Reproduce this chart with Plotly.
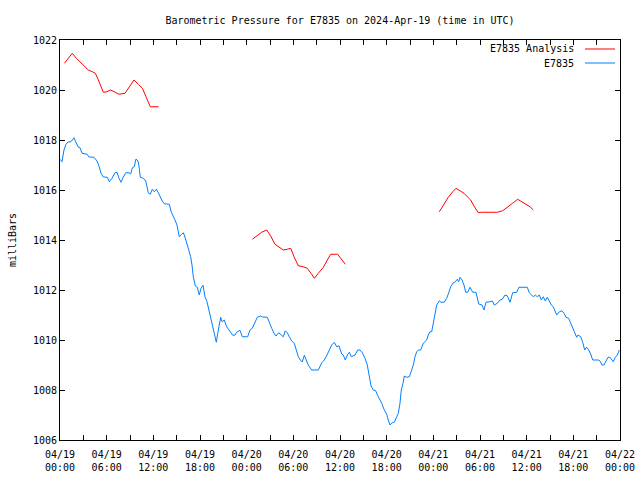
import pandas as pd
import plotly.graph_objects as go

# Hours since 2024-04-19 00:00 UTC and pressure (mb) for station E7835
obs_hours = [0.0, 0.26, 0.51, 0.77, 1.03, 1.41, 1.80, 2.06, 2.31, 2.57, 2.83, 3.47, 3.73, 4.37, 4.76,
             5.01, 5.27, 5.57, 6.08, 6.34, 6.69, 7.07, 7.33, 7.59, 7.84, 8.14, 8.45, 8.87, 9.09, 9.30,
             9.55, 9.77, 10.03, 10.20, 10.32, 10.71, 11.02, 11.19, 11.35, 11.61, 11.87, 12.12, 12.38,
             12.64, 12.90, 13.15, 13.41, 14.05, 14.31, 14.57, 14.79, 15.04, 15.34, 15.65, 15.85, 16.03,
             16.29, 16.55, 16.80, 16.97, 17.14, 17.40, 17.65, 17.91, 18.13, 18.39, 18.64, 18.90, 19.16,
             19.32, 19.54, 19.80, 20.02, 20.10, 20.28, 20.48, 20.66, 20.83, 21.12, 21.43, 21.86, 22.20,
             22.50, 22.72, 23.14, 23.44, 24.13, 24.43, 24.72, 25.11, 25.37, 25.80, 26.06, 26.65, 26.91,
             27.22, 27.51, 27.77, 28.12, 28.45, 28.71, 28.97, 29.22, 29.48, 29.79, 30.12, 30.43, 30.64,
             30.90, 31.15, 31.41, 31.63, 31.92, 32.36, 33.21, 33.65, 33.98, 34.33, 34.62, 34.93, 35.27,
             35.58, 35.87, 36.22, 36.42, 36.68, 36.94, 37.20, 37.45, 37.93, 38.28, 38.57, 38.87, 39.21,
             39.51, 39.77, 39.99, 40.28, 40.59, 40.85, 41.14, 41.36, 41.66, 42.00, 42.21, 42.43, 42.72,
             42.98, 43.29, 43.50, 43.71, 43.88, 44.10, 44.27, 44.58, 44.91, 45.22, 45.43, 45.64, 45.86,
             46.07, 46.38, 46.71, 47.15, 47.35, 47.57, 47.79, 48.00, 48.21, 48.43, 48.77, 48.99, 49.41,
             49.72, 49.98, 50.23, 50.57, 50.82, 51.08, 51.26, 51.43, 51.69, 51.94, 52.16, 52.42, 52.71,
             53.06, 53.49, 53.83, 54.26, 54.51, 54.77, 55.29, 55.58, 55.84, 56.23, 56.57, 56.87, 57.21,
             57.51, 57.86, 58.20, 58.72, 59.01, 60.08, 60.34, 60.65, 60.85, 61.11, 61.37, 61.62, 61.88,
             62.14, 62.40, 62.65, 62.91, 63.17, 63.42, 63.68, 63.86, 64.12, 64.54, 64.80, 65.06, 65.40,
             65.66, 65.92, 66.18, 66.43, 66.60, 66.95, 67.20, 67.46, 67.72, 67.98, 68.23, 68.49, 69.21,
             69.43, 69.69, 69.94, 70.20, 70.46, 70.71, 70.97, 71.14, 71.40, 71.66, 71.91]
obs_mb = [1017.23, 1017.13, 1017.60, 1017.83, 1017.92, 1017.93, 1018.09, 1017.93, 1017.73, 1017.69,
          1017.47, 1017.43, 1017.32, 1017.31, 1017.16, 1016.96, 1016.67, 1016.52, 1016.51, 1016.33,
          1016.47, 1016.69, 1016.71, 1016.47, 1016.31, 1016.52, 1016.69, 1016.69, 1016.64, 1016.89,
          1016.93, 1017.24, 1017.16, 1016.87, 1016.51, 1016.47, 1016.36, 1016.13, 1015.89, 1015.83,
          1016.03, 1015.93, 1016.03, 1015.89, 1015.69, 1015.56, 1015.45, 1015.43, 1015.11, 1014.97,
          1014.80, 1014.60, 1014.13, 1014.23, 1014.29, 1014.16, 1013.87, 1013.53, 1013.33, 1013.00,
          1012.53, 1012.16, 1012.11, 1011.80, 1012.07, 1012.19, 1011.73, 1011.53, 1011.20, 1010.93,
          1010.60, 1010.36, 1010.07, 1009.91, 1010.27, 1010.67, 1010.91, 1010.73, 1010.80, 1010.53,
          1010.33, 1010.19, 1010.20, 1010.31, 1010.39, 1010.13, 1010.13, 1010.40, 1010.47, 1010.73,
          1010.91, 1010.96, 1010.92, 1010.91, 1010.67, 1010.47, 1010.27, 1010.16, 1010.29, 1010.20,
          1010.13, 1010.37, 1010.29, 1010.13, 1009.96, 1009.87, 1009.60, 1009.33, 1009.20, 1009.12,
          1009.39, 1009.20, 1009.00, 1008.80, 1008.80, 1009.09, 1009.20, 1009.40, 1009.60, 1009.80,
          1009.91, 1009.73, 1009.77, 1009.44, 1009.40, 1009.20, 1009.40, 1009.51, 1009.33, 1009.40,
          1009.60, 1009.60, 1009.49, 1009.27, 1009.00, 1008.53, 1008.16, 1008.00, 1007.97, 1007.77,
          1007.60, 1007.47, 1007.23, 1007.03, 1006.80, 1006.60, 1006.69, 1006.71, 1006.93, 1007.07,
          1007.47, 1008.00, 1008.27, 1008.56, 1008.51, 1008.53, 1008.80, 1009.00, 1009.33, 1009.53,
          1009.60, 1009.60, 1009.87, 1010.00, 1010.20, 1010.33, 1010.33, 1010.67, 1011.07, 1011.40,
          1011.57, 1011.51, 1011.51, 1011.67, 1011.89, 1012.13, 1012.29, 1012.33, 1012.43, 1012.33,
          1012.51, 1012.40, 1012.20, 1011.91, 1011.91, 1012.11, 1011.91, 1011.91, 1011.44, 1011.40,
          1011.20, 1011.51, 1011.53, 1011.56, 1011.40, 1011.47, 1011.60, 1011.63, 1011.80, 1011.77,
          1011.51, 1011.89, 1011.91, 1012.11, 1012.11, 1011.89, 1011.80, 1011.73, 1011.80, 1011.73,
          1011.80, 1011.60, 1011.73, 1011.56, 1011.71, 1011.53, 1011.40, 1011.33, 1011.17, 1011.00,
          1011.11, 1011.17, 1011.07, 1010.91, 1010.87, 1010.67, 1010.47, 1010.27, 1010.11, 1010.20,
          1010.13, 1009.91, 1009.60, 1009.71, 1009.60, 1009.44, 1009.20, 1009.20, 1009.16, 1009.00,
          1009.00, 1009.16, 1009.31, 1009.31, 1009.20, 1009.13, 1009.31, 1009.40, 1009.60]

# Analysis segments (three separate runs)
ana1_hours = [0.56, 1.07, 1.58, 2.10, 2.61, 3.13, 3.64, 4.16, 4.54, 4.84, 5.19, 5.57, 6.04, 6.47,
              6.99, 7.59, 8.36, 8.87, 9.51, 10.07, 10.59, 11.06, 11.61, 12.69]
ana1_mb = [1021.07, 1021.27, 1021.47, 1021.27, 1021.11, 1020.96, 1020.80, 1020.73, 1020.67, 1020.47,
           1020.20, 1019.91, 1019.93, 1020.00, 1019.93, 1019.83, 1019.87, 1020.09, 1020.40, 1020.23,
           1020.07, 1019.73, 1019.33, 1019.33]
ana2_hours = [24.73, 25.29, 25.93, 26.58, 27.09, 27.64, 28.20, 28.71, 29.22, 29.66, 30.09, 30.64,
              31.28, 31.79, 32.27, 32.70, 33.21, 33.86, 34.37, 34.80, 35.70, 36.22, 36.68]
ana2_mb = [1014.03, 1014.17, 1014.31, 1014.40, 1014.16, 1013.83, 1013.71, 1013.60, 1013.63, 1013.67,
           1013.33, 1012.97, 1012.93, 1012.87, 1012.67, 1012.47, 1012.67, 1012.91, 1013.20, 1013.43,
           1013.43, 1013.23, 1013.03]
ana3_hours = [48.77, 49.37, 49.93, 50.49, 50.91, 51.43, 51.94, 52.37, 52.80, 53.23, 53.78, 54.21,
              56.23, 56.91, 57.64, 58.20, 58.84, 59.36, 59.91, 60.43, 60.86]
ana3_mb = [1015.13, 1015.43, 1015.71, 1015.93, 1016.07, 1015.97, 1015.87, 1015.73, 1015.60, 1015.36,
           1015.09, 1015.11, 1015.11, 1015.17, 1015.33, 1015.47, 1015.63, 1015.53, 1015.44, 1015.33,
           1015.20]

BLUE = "rgb(0,128,255)"
RED = "rgb(255,0,0)"
FONT = "DejaVu Sans Mono"

base = pd.Timestamp("2024-04-19 00:00")
def to_time(hours):
    return list(base + pd.to_timedelta(hours, unit="h"))

ana_x, ana_y = [], []
for hs, vs in [(ana1_hours, ana1_mb), (ana2_hours, ana2_mb), (ana3_hours, ana3_mb)]:
    if ana_x:
        ana_x.append(None)
        ana_y.append(None)
    ana_x += to_time(hs)
    ana_y += vs

fig = go.Figure()
fig.add_trace(go.Scatter(x=ana_x, y=ana_y, mode="lines", name="E7835 Analysis",
                         line=dict(color=RED, width=1), connectgaps=False))
fig.add_trace(go.Scatter(x=to_time(obs_hours), y=obs_mb, mode="lines", name="E7835",
                         line=dict(color=BLUE, width=1)))

axis_common = dict(showline=True, linecolor="black", linewidth=1, mirror="ticks",
                   ticks="inside", ticklen=5, tickcolor="black", showgrid=False,
                   zeroline=False, automargin=False,
                   tickfont=dict(family=FONT, size=10, color="black"))

fig.update_layout(
    width=640, height=480,
    margin=dict(l=60, r=20, t=40, b=40),
    paper_bgcolor="white", plot_bgcolor="white",
    showlegend=False,
    title=dict(text="Barometric Pressure for E7835 on 2024-Apr-19 (time in UTC)",
               x=0.53125, xanchor="center", y=1 - 20 / 480, yanchor="middle",
               font=dict(family=FONT, size=10, color="black")),
    xaxis=dict(type="date", range=[base, base + pd.Timedelta(hours=72)],
               dtick=6 * 3600 * 1000, tick0=base, tickformat="%m/%d<br>%H:%M",
               ticklabelstandoff=5,
               minor=dict(dtick=3 * 3600 * 1000, ticks="inside", ticklen=5, tickcolor="black"),
               **axis_common),
    yaxis=dict(range=[1006, 1022], dtick=2, tick0=1006, ticklabelstandoff=0,
               title=dict(text="milliBars", font=dict(family=FONT, size=10, color="black"),
                          standoff=14),
               **axis_common),
)

# Legend drawn gnuplot-style: label right-aligned, line sample to its right
for i, (label, col) in enumerate([("E7835 Analysis", RED), ("E7835", BLUE)]):
    yp = 0.9775 - i * 0.035
    fig.add_annotation(xref="paper", yref="paper", x=0.921, y=yp, text=label, showarrow=False,
                       xanchor="right", yanchor="middle",
                       font=dict(family=FONT, size=10, color="black"))
    fig.add_shape(type="line", xref="paper", yref="paper", x0=0.9375, x1=0.9911, y0=yp, y1=yp,
                  line=dict(color=col, width=1))

fig.write_html("out.html")
